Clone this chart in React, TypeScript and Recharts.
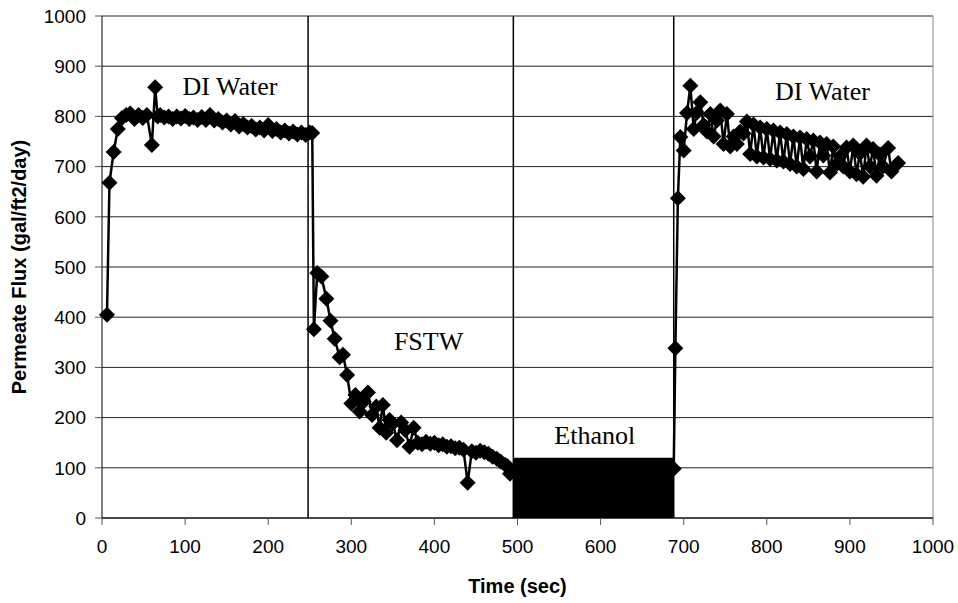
import {
  ComposedChart,
  Line,
  XAxis,
  YAxis,
  CartesianGrid,
  ReferenceLine,
  ReferenceArea,
  ReferenceDot,
} from "recharts";

// [time (sec), permeate flux (gal/ft2/day)]
const diWaterStart = [
  [6, 405], [9, 668], [14, 729], [19, 775], [24, 797], [29, 803], [34, 806],
  [39, 795], [44, 803], [49, 797], [54, 803], [60, 743], [64, 858], [67, 800],
  [70, 803], [75, 798], [80, 800], [85, 795], [90, 800], [95, 796], [100, 801],
  [105, 795], [110, 798], [115, 793], [120, 799], [125, 793], [130, 803],
  [135, 792], [140, 795], [145, 788], [150, 792], [155, 784], [160, 791],
  [165, 780], [170, 785], [175, 778], [180, 781], [185, 774], [190, 778],
  [195, 772], [200, 783], [205, 771], [210, 775], [215, 768], [220, 772],
  [225, 766], [230, 770], [235, 764], [240, 768], [245, 763], [250, 768],
  [253, 767],
];

const fstw = [
  [255, 376], [259, 488], [264, 481], [270, 437], [275, 393], [280, 357],
  [286, 320], [290, 325], [295, 285], [300, 228], [305, 245], [310, 212],
  [315, 232], [320, 250], [325, 205], [330, 222], [334, 180], [338, 225],
  [342, 170], [346, 195], [350, 188], [355, 155], [360, 190], [365, 175],
  [370, 142], [375, 180], [380, 150], [385, 147], [390, 152], [395, 148],
  [400, 150], [405, 145], [410, 147], [415, 142], [420, 143], [425, 139],
  [430, 140], [435, 136], [440, 70], [445, 133], [450, 130], [455, 134],
  [460, 131], [465, 128], [470, 122], [475, 118], [480, 112], [485, 106],
  [488, 103], [491, 88],
];

const ethanolEnd = [[688, 98]];

const diWaterEnd = [
  [690, 338], [693, 637], [696, 759], [700, 732], [704, 807], [708, 861],
  [712, 775], [716, 808], [720, 828], [724, 783], [728, 770], [732, 805],
  [736, 760], [740, 792], [744, 812], [748, 745], [752, 805], [756, 740],
  [760, 760], [764, 745], [768, 770], [772, 766], [776, 790], [780, 725],
  [784, 784], [788, 720], [792, 778], [796, 718], [800, 775], [804, 715],
  [808, 772], [812, 712], [816, 768], [820, 710], [824, 765], [828, 705],
  [832, 760], [836, 700], [840, 758], [844, 695], [848, 755], [852, 720],
  [856, 752], [860, 690], [864, 748], [868, 722], [872, 745], [876, 688],
  [880, 740], [884, 705], [888, 720], [892, 700], [896, 738], [900, 690],
  [904, 742], [908, 685], [912, 726], [916, 680], [920, 742], [924, 700],
  [928, 735], [932, 682], [936, 724], [940, 700], [946, 737], [950, 690],
  [958, 707],
];

const xTicks = [0, 100, 200, 300, 400, 500, 600, 700, 800, 900, 1000];
const yTicks = [0, 100, 200, 300, 400, 500, 600, 700, 800, 900, 1000];

// phase boundaries and the ethanol block
const phaseBreaks = [248, 495, 688];
const ethanolBlock = { x1: 494.5, x2: 688, top: 120 };

// text baselines, in data units
const notes = [
  { text: "DI Water", x: 154, y: 843 },
  { text: "FSTW", x: 393, y: 335 },
  { text: "Ethanol", x: 593, y: 148 },
  { text: "DI Water", x: 867, y: 833 },
];

const data = [...diWaterStart, ...fstw, ...ethanolEnd, ...diWaterEnd].map(
  ([time, flux]) => ({ time, flux })
);

const sans = "'Liberation Sans', Arial, sans-serif";
const serif = "'Liberation Serif', 'Times New Roman', serif";

const Diamond = (props: any) => {
  const { cx, cy, index } = props;
  if (cx == null || cy == null) return null;
  const r = 8;
  return (
    <polygon
      key={`d-${index}`}
      points={`${cx},${cy - r} ${cx + r},${cy} ${cx},${cy + r} ${cx - r},${cy}`}
      fill="#000"
    />
  );
};

const noteLabel = (text: string) => (props: any) => {
  const vb = props.viewBox || {};
  const x = (vb.x ?? vb.cx) + (vb.width || 0) / 2;
  const y = (vb.y ?? vb.cy) + (vb.height || 0) / 2;
  return (
    <text x={x} y={y} textAnchor="middle" fontFamily={serif} fontSize={26} fill="#000">
      {text}
    </text>
  );
};

const yTitle = (props: any) => {
  const vb = props.viewBox;
  const x = vb.x + 26;
  const y = vb.y + vb.height / 2;
  return (
    <text
      x={x}
      y={y}
      transform={`rotate(-90, ${x}, ${y})`}
      textAnchor="middle"
      fontFamily={sans}
      fontWeight="bold"
      fontSize={20}
      fill="#000"
    >
      Permeate Flux (gal/ft2/day)
    </text>
  );
};

const xTitle = (props: any) => {
  const vb = props.viewBox;
  return (
    <text
      x={vb.x + vb.width / 2}
      y={vb.y + 75}
      textAnchor="middle"
      fontFamily={sans}
      fontWeight="bold"
      fontSize={20}
      fill="#000"
    >
      Time (sec)
    </text>
  );
};

export default function App() {
  return (
    <div style={{ position: "absolute", left: 0, top: 0, background: "#fff" }}>
      <ComposedChart
        width={958}
        height={603}
        data={data}
        margin={{ top: 16, right: 25, bottom: 0, left: 0 }}
      >
        <CartesianGrid vertical={false} stroke="#222" />

        <XAxis
          dataKey="time"
          type="number"
          domain={[0, 1000]}
          ticks={xTicks}
          height={85}
          tickSize={7}
          tickMargin={15}
          tickLine={{ stroke: "#555" }}
          axisLine={{ stroke: "#000" }}
          tick={{ fill: "#000", fontFamily: sans, fontSize: 19 }}
          label={xTitle}
        />

        <YAxis
          type="number"
          domain={[0, 1000]}
          ticks={yTicks}
          width={102}
          tickSize={7}
          tickMargin={9}
          tickLine={{ stroke: "#555" }}
          axisLine={{ stroke: "#000" }}
          tick={{ fill: "#000", fontFamily: sans, fontSize: 19 }}
          label={yTitle}
        />

        <ReferenceLine x={1000} stroke="#888" />

        <ReferenceArea
          x1={ethanolBlock.x1}
          x2={ethanolBlock.x2}
          y1={0}
          y2={ethanolBlock.top}
          fill="#000"
          fillOpacity={1}
          stroke="none"
        />

        {phaseBreaks.map((x) => (
          <ReferenceLine key={x} x={x} stroke="#000" strokeWidth={1.5} />
        ))}

        <Line
          type="linear"
          dataKey="flux"
          stroke="#000"
          strokeWidth={2.5}
          dot={(p: any) => <Diamond {...p} />}
          activeDot={false}
          isAnimationActive={false}
        />

        {notes.map((n, i) => (
          <ReferenceDot
            key={i}
            x={n.x}
            y={n.y}
            r={1}
            fill="none"
            stroke="none"
            label={noteLabel(n.text)}
          />
        ))}
      </ComposedChart>
    </div>
  );
}
